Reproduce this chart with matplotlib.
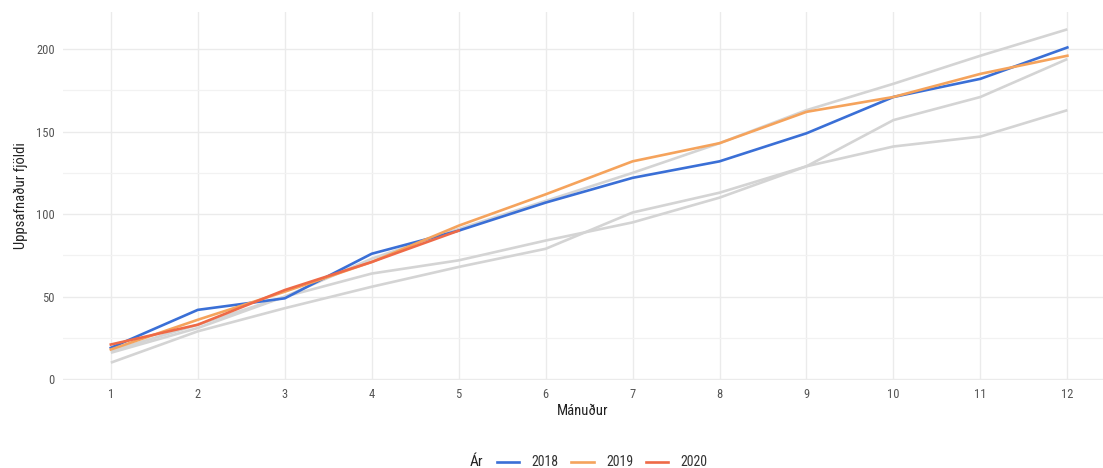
import matplotlib.pyplot as plt
from matplotlib.ticker import MultipleLocator

# Data
months = [1, 2, 3, 4, 5, 6, 7, 8, 9, 10, 11, 12]

# earlier years, drawn in grey behind
y2015 = [16, 31, 50, 73, 91, 108, 125, 143, 163, 179, 196, 212]
y2016 = [10, 29, 43, 56, 68, 79, 101, 113, 129, 157, 171, 194]
y2017 = [17, 33, 50, 64, 72, 84, 95, 110, 129, 141, 147, 163]

y2018 = [19, 42, 49, 76, 90, 107, 122, 132, 149, 171, 182, 201]
y2019 = [18, 36, 53, 71, 93, 112, 132, 143, 162, 171, 185, 196]
y2020 = [21, 33, 54, 71, 90]

plt.rcParams['font.family'] = ['Roboto Condensed', 'Liberation Sans Narrow', 'Roboto', 'DejaVu Sans']

fig = plt.figure(figsize=(11.03, 4.68), dpi=100)
ax = fig.add_axes([63 / 1103, 1 - 380 / 468, 1 - 63 / 1103, (380 - 12) / 468])

for ys in [y2015, y2016, y2017]:
    ax.plot(months, ys, color='#d4d4d4', lw=1.9, solid_capstyle='butt')

ax.plot(months, y2018, color='#3a6fd6', lw=1.9, label='2018')
ax.plot(months, y2019, color='#f5a35c', lw=1.9, label='2019')
ax.plot(months[:len(y2020)], y2020, color='#ee6a47', lw=1.9, label='2020')

ax.set_xlim(0.45, 12.41)
ax.set_ylim(-0.5, 222.5)
ax.set_xticks(months)
ax.yaxis.set_major_locator(MultipleLocator(50))
ax.yaxis.set_minor_locator(MultipleLocator(25))

ax.grid(which='major', color='#ebebeb', lw=1.0)
ax.grid(which='minor', axis='y', color='#f2f2f2', lw=0.9)
ax.set_axisbelow(True)
for s in ax.spines.values():
    s.set_visible(False)
ax.tick_params(which='both', length=0, labelsize=9, colors='#555555', pad=6)

ax.set_xlabel('Mánuður', fontsize=10.5, color='#222222', labelpad=2)
ax.set_ylabel('Uppsafnaður fjöldi', fontsize=10.5, color='#222222', labelpad=6)

fig.text(0.426, 0.012, 'Ár', fontsize=11, color='#222222', ha='left', va='center')
fig.legend(loc='center', bbox_to_anchor=(0.546, 0.012), ncol=3, frameon=False,
           fontsize=10, handlelength=1.6, columnspacing=0.9, handletextpad=0.9,
           labelcolor='#333333')

fig.savefig('out.png', dpi=100)
